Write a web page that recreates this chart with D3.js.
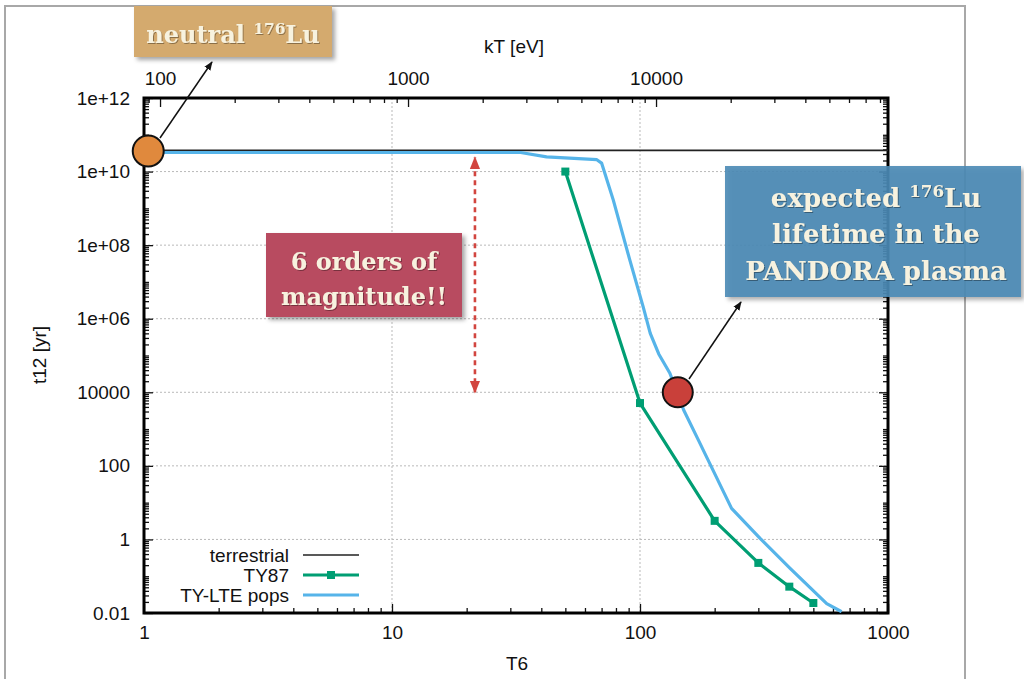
<!DOCTYPE html>
<html>
<head>
<meta charset="utf-8">
<script src="https://cdn.jsdelivr.net/npm/d3@7"></script>
<style>
  html, body { margin: 0; padding: 0; background: #fff; }
  svg { display: block; }
  .tick text { font-family: "Liberation Sans", Arial, sans-serif; font-size: 19px; fill: #111; }
</style>
</head>
<body>
<svg id="chart" width="1024" height="679"></svg>
<script>
// ---------------- data ----------------
const terrestrialT6  = [1, 1000];
const terrestrialT12 = [3.76e10, 3.76e10];

const ty87T6  = [50, 100, 200, 300, 400, 500];
const ty87T12 = [1e10, 5.1e3, 3.2, 0.23, 0.052, 0.0187];

const lteT6  = [1, 33, 42, 67, 70, 78, 91, 103, 110, 119, 132, 150, 172, 191, 234, 305, 403, 566, 650];
const lteT12 = [3.3e10, 3.3e10, 2.5e10, 2.1e10, 1.7e10, 1.7e9, 3.9e7, 2.1e6, 4e5, 1.1e5, 3.3e4, 3.3e3, 500, 117, 7, 1.07, 0.163, 0.018, 0.0108];

const xTicks      = [1, 10, 100, 1000];
const xTickLabels = ["1", "10", "100", "1000"];
const x2Ticks      = [100, 1000, 10000];
const x2TickLabels = ["100", "1000", "10000"];
const yTicks      = [1e12, 1e10, 1e8, 1e6, 1e4, 100, 1, 0.01];
const yTickLabels = ["1e+12", "1e+10", "1e+08", "1e+06", "10000", "100", "1", "0.01"];

const seriesNames = ["terrestrial", "TY87", "TY-LTE pops"];
const kTperT6 = 86.17; // eV per 10^6 K

// ---------------- layout ----------------
const W = 1024, H = 679;
const L = 144, R = 888, T = 98, B = 613;
const svg = d3.select("#chart");

const x = d3.scaleLog().domain([1, 1000]).range([L, R]);
const x2 = d3.scaleLog().domain([1 * kTperT6, 1000 * kTperT6]).range([L, R]);
const y = d3.scaleLog().domain([0.01, 1e12]).range([B, T]);

const defs = svg.append("defs");
defs.append("clipPath").attr("id", "plotclip")
  .append("rect").attr("x", L).attr("y", T).attr("width", R - L).attr("height", B - T);
const sh = defs.append("filter").attr("id", "shadow").attr("x", "-10%").attr("y", "-10%").attr("width", "130%").attr("height", "140%");
sh.append("feDropShadow").attr("dx", 3).attr("dy", 3).attr("stdDeviation", 2).attr("flood-color", "#000").attr("flood-opacity", 0.35);
const tsh = defs.append("filter").attr("id", "tshadow");
tsh.append("feDropShadow").attr("dx", 1).attr("dy", 1).attr("stdDeviation", 0.6).attr("flood-color", "#000").attr("flood-opacity", 0.35);
function marker(id, color, size) {
  defs.append("marker").attr("id", id).attr("viewBox", "0 0 10 10")
    .attr("refX", 9).attr("refY", 5).attr("markerWidth", size).attr("markerHeight", size)
    .attr("orient", "auto-start-reverse").attr("markerUnits", "userSpaceOnUse")
    .append("path").attr("d", "M0,1 L10,5 L0,9 Z").attr("fill", color);
}
marker("arrBlack", "#111", 9);
marker("arrRed", "#d2453f", 13);

// outer slide frame
svg.append("path")
  .attr("d", `M5,${H + 5} L5,6 L965,6 L965,${H + 5}`)
  .attr("fill", "none").attr("stroke", "#a8a8a8").attr("stroke-width", 2);

// ---------------- grid ----------------
const grid = svg.append("g").attr("stroke", "#b9b9b9").attr("stroke-width", 1).attr("stroke-dasharray", "2,2");
yTicks.forEach(v => grid.append("line").attr("x1", L).attr("x2", R).attr("y1", y(v)).attr("y2", y(v)));
[10, 100].forEach(v => grid.append("line").attr("x1", x(v)).attr("x2", x(v)).attr("y1", T).attr("y2", B));

// ---------------- axes ----------------
function minorLog(lo, hi, exclude) {
  const out = [];
  for (let e = Math.floor(Math.log10(lo)); e <= Math.ceil(Math.log10(hi)); e++) {
    for (let n = 1; n <= 9; n++) {
      const v = n * Math.pow(10, e);
      if (v >= lo * 0.9999 && v <= hi * 1.0001 && !exclude.some(m => Math.abs(m - v) / v < 1e-6)) out.push(v);
    }
  }
  return out;
}
const fmt = (vals, labels) => d => labels[vals.findIndex(v => Math.abs(v - d) / d < 1e-6)];

// bottom
svg.append("g").attr("transform", `translate(0,${B})`)
  .call(d3.axisBottom(x).tickValues(minorLog(1, 1000, xTicks)).tickSize(-5).tickFormat(""));
svg.append("g").attr("transform", `translate(0,${B})`)
  .call(d3.axisBottom(x).tickValues(xTicks).tickSize(-9).tickPadding(13).tickFormat(fmt(xTicks, xTickLabels)));
// top (kT)
svg.append("g").attr("transform", `translate(0,${T})`)
  .call(d3.axisTop(x2).tickValues(minorLog(x2.domain()[0], x2.domain()[1], x2Ticks)).tickSize(-5).tickFormat(""));
svg.append("g").attr("transform", `translate(0,${T})`)
  .call(d3.axisTop(x2).tickValues(x2Ticks).tickSize(-9).tickPadding(13).tickFormat(fmt(x2Ticks, x2TickLabels)));
// left
svg.append("g").attr("transform", `translate(${L},0)`)
  .call(d3.axisLeft(y).tickValues(minorLog(0.01, 1e12, yTicks)).tickSize(-5).tickFormat(""));
svg.append("g").attr("transform", `translate(${L},0)`)
  .call(d3.axisLeft(y).tickValues(yTicks).tickSize(-9).tickPadding(14).tickFormat(fmt(yTicks, yTickLabels)));
// right (mirror)
svg.append("g").attr("transform", `translate(${R},0)`)
  .call(d3.axisRight(y).tickValues(minorLog(0.01, 1e12, yTicks)).tickSize(-5).tickFormat(""));
svg.append("g").attr("transform", `translate(${R},0)`)
  .call(d3.axisRight(y).tickValues(yTicks).tickSize(-9).tickFormat(""));

svg.selectAll(".domain").remove();
svg.selectAll(".tick line").attr("stroke", "#111").attr("stroke-width", 1.3);

// border
svg.append("rect").attr("x", L).attr("y", T).attr("width", R - L).attr("height", B - T)
  .attr("fill", "none").attr("stroke", "#000").attr("stroke-width", 3);

// axis titles
const axFont = '"Liberation Sans", Arial, sans-serif';
svg.append("text").attr("x", 514).attr("y", 53).attr("text-anchor", "middle")
  .attr("font-family", axFont).attr("font-size", 19).attr("fill", "#111").text("kT [eV]");
svg.append("text").attr("x", 517).attr("y", 670).attr("text-anchor", "middle")
  .attr("font-family", axFont).attr("font-size", 19).attr("fill", "#111").text("T6");
svg.append("text").attr("transform", "translate(46,355) rotate(-90)").attr("text-anchor", "middle")
  .attr("font-family", axFont).attr("font-size", 19).attr("fill", "#111").text("t12 [yr]");

// ---------------- series ----------------
const line = d3.line().x(d => x(d[0])).y(d => y(d[1]));
const plot = svg.append("g").attr("clip-path", "url(#plotclip)");
const colors = ["#222", "#009e73", "#56b4e9"];
const widths = [1.6, 3.2, 3.2];

plot.append("path").datum(d3.zip(terrestrialT6, terrestrialT12)).attr("d", line)
  .attr("fill", "none").attr("stroke", colors[0]).attr("stroke-width", widths[0]);
const ty87 = d3.zip(ty87T6, ty87T12);
plot.append("path").datum(ty87).attr("d", line)
  .attr("fill", "none").attr("stroke", colors[1]).attr("stroke-width", widths[1]).attr("stroke-linejoin", "round");
plot.selectAll("rect.m").data(ty87).join("rect").attr("class", "m")
  .attr("x", d => x(d[0]) - 4).attr("y", d => y(d[1]) - 4).attr("width", 8).attr("height", 8)
  .attr("fill", colors[1]);
plot.append("path").datum(d3.zip(lteT6, lteT12)).attr("d", line)
  .attr("fill", "none").attr("stroke", colors[2]).attr("stroke-width", widths[2]).attr("stroke-linejoin", "round");

// ---------------- legend ----------------
const lg = svg.append("g");
seriesNames.forEach((name, i) => {
  const ly = 555 + i * 20;
  lg.append("text").attr("x", 289).attr("y", ly + 6.5).attr("text-anchor", "end")
    .attr("font-family", axFont).attr("font-size", 19).attr("fill", "#111").text(name);
  lg.append("line").attr("x1", 303).attr("x2", 359).attr("y1", ly).attr("y2", ly)
    .attr("stroke", colors[i]).attr("stroke-width", widths[i]);
  if (i === 1) lg.append("rect").attr("x", 331 - 4).attr("y", ly - 4).attr("width", 8).attr("height", 8).attr("fill", colors[i]);
});

// ---------------- annotations ----------------
const serif = '"DejaVu Serif", "Liberation Serif", serif';
const cream = "#f7f2df";

// red dashed double arrow (6 orders)
svg.append("line").attr("x1", x(21.6)).attr("x2", x(21.6)).attr("y1", y(1e4)).attr("y2", y(2.4e10))
  .attr("stroke", "#d2453f").attr("stroke-width", 2.6).attr("stroke-dasharray", "5,4")
  .attr("marker-start", "url(#arrRed)").attr("marker-end", "url(#arrRed)");

// arrows to boxes
svg.append("line").attr("x1", 160).attr("y1", 138).attr("x2", 212).attr("y2", 62)
  .attr("stroke", "#111").attr("stroke-width", 1.5).attr("marker-end", "url(#arrBlack)");
svg.append("line").attr("x1", 689).attr("y1", 379).attr("x2", 741).attr("y2", 302)
  .attr("stroke", "#111").attr("stroke-width", 1.5).attr("marker-end", "url(#arrBlack)");

// circles
svg.append("circle").attr("cx", x(1.04)).attr("cy", y(3.6e10)).attr("r", 15.5)
  .attr("fill", "#e0893d").attr("stroke", "#111").attr("stroke-width", 2);
svg.append("circle").attr("cx", x(142)).attr("cy", y(1e4)).attr("r", 15)
  .attr("fill", "#c9403a").attr("stroke", "#111").attr("stroke-width", 2);

function box(x0, y0, w, h, fill, op, lines, size) {
  const g = svg.append("g");
  g.append("rect").attr("x", x0).attr("y", y0).attr("width", w).attr("height", h)
    .attr("fill", fill).attr("fill-opacity", op).attr("filter", "url(#shadow)");
  lines.forEach(l => {
    const t = g.append("text").attr("x", l.cx).attr("y", l.by).attr("text-anchor", "middle")
      .attr("font-family", serif).attr("font-weight", "bold").attr("font-size", size)
      .attr("fill", cream).attr("filter", "url(#tshadow)");
    l.parts.forEach(p => {
      if (p.sup) t.append("tspan").attr("dy", -size * 0.38).attr("font-size", size * 0.64).text(p.t);
      else t.append("tspan").attr("dy", p.after ? size * 0.38 : 0).text(p.t);
    });
  });
}

box(134, 6, 198, 51, "#d4aa6e", 1,
  [{cx: 233, by: 43, parts: [{t: "neutral "}, {t: "176", sup: true}, {t: "Lu", after: true}]}], 24);
box(266, 233, 196, 84, "#b84b60", 1,
  [{cx: 364, by: 270, parts: [{t: "6 orders of"}]},
   {cx: 364, by: 305, parts: [{t: "magnitude!!"}]}], 24);
box(725, 166, 296, 131, "#4a8ab5", 0.9,
  [{cx: 876, by: 207, parts: [{t: "expected "}, {t: "176", sup: true}, {t: "Lu", after: true}]},
   {cx: 876, by: 243, parts: [{t: "lifetime in the"}]},
   {cx: 876, by: 280, parts: [{t: "PANDORA plasma"}]}], 26);
</script>
</body>
</html>
